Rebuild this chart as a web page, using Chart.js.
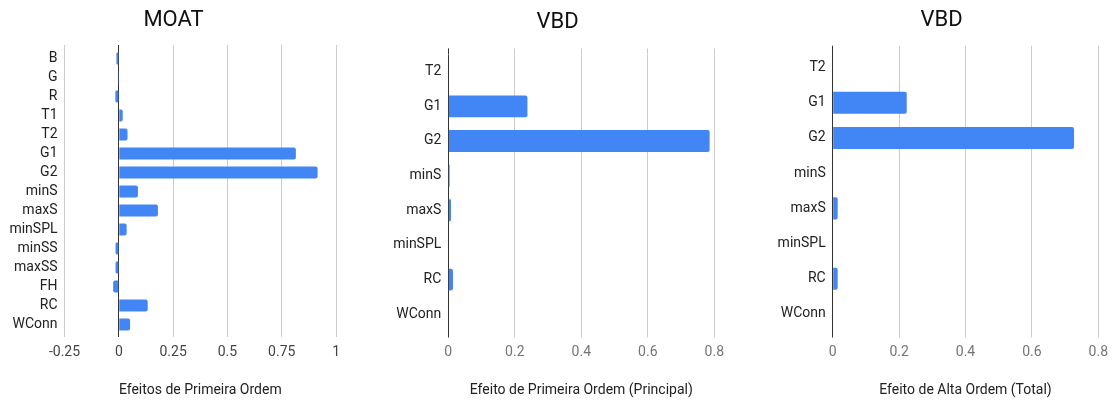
<!DOCTYPE html>
<html>
<head>
<meta charset="utf-8">
<script src="https://cdn.jsdelivr.net/npm/chart.js@4/dist/chart.umd.min.js"></script>
<style>
  html, body { margin: 0; padding: 0; background: #fff; }
  body { width: 1118px; height: 403px; position: relative; overflow: hidden; }
  .panel { position: absolute; top: 0; width: 347px; height: 403px; }
  .panel canvas { display: block; }
</style>
</head>
<body>
<div class="panel" style="left:0"><canvas id="moat" width="347" height="403"></canvas></div>
<div class="panel" style="left:384px"><canvas id="vbdMain" width="347" height="403"></canvas></div>
<div class="panel" style="left:768px"><canvas id="vbdTotal" width="347" height="403"></canvas></div>
<script>
// MOAT first-order effects
const moatCategories = ['B', 'G', 'R', 'T1', 'T2', 'G1', 'G2', 'minS', 'maxS', 'minSPL', 'minSS', 'maxSS', 'FH', 'RC', 'WConn'];
const moatValues = [-0.011, -0.004, -0.016, 0.018, 0.040, 0.815, 0.915, 0.088, 0.180, 0.036, -0.015, -0.015, -0.026, 0.133, 0.052];
const moatTicks = [-0.25, 0, 0.25, 0.5, 0.75, 1];
const moatTickLabels = ['-0.25', '0', '0.25', '0.5', '0.75', '1'];

// VBD first-order (main) and total effects
const vbdCategories = ['T2', 'G1', 'G2', 'minS', 'maxS', 'minSPL', 'RC', 'WConn'];
const vbdMainValues = [0, 0.238, 0.786, 0.004, 0.008, 0, 0.014, 0];
const vbdTotalValues = [0, 0.223, 0.727, 0, 0.015, 0, 0.015, 0];
const vbdTicks = [0, 0.2, 0.4, 0.6, 0.8];
const vbdTickLabels = ['0', '0.2', '0.4', '0.6', '0.8'];

const FONT = 'Roboto';
const BAR_BLUE = '#4285f4';
const gridColor = ctx => (ctx.tick && ctx.tick.value === 0) ? '#333333' : '#cccccc';

function makeChart(id, opt) {
  const setTicks = s => { s.ticks = opt.ticks.map(v => ({ value: v })); };
  return new Chart(document.getElementById(id), {
    type: 'bar',
    data: {
      labels: opt.categories,
      datasets: [{
        data: opt.values,
        backgroundColor: BAR_BLUE,
        borderWidth: 0,
        borderRadius: 2,
        borderSkipped: 'start',
        barPercentage: 0.63,
        categoryPercentage: 1
      }]
    },
    options: {
      indexAxis: 'y',
      responsive: false,
      animation: false,
      devicePixelRatio: 1,
      layout: { padding: { left: 10, right: 10, top: 0, bottom: 1 } },
      plugins: {
        legend: { display: false },
        tooltip: { enabled: false },
        title: {
          display: true,
          text: opt.title,
          color: '#111',
          font: { family: FONT, size: 22, weight: 'normal', lineHeight: 1.2 },
          padding: { top: opt.titleTop, bottom: opt.titleBottom }
        }
      },
      scales: {
        x: {
          type: 'linear',
          position: 'bottom',
          min: opt.ticks[0],
          max: opt.ticks[opt.ticks.length - 1],
          afterBuildTicks: setTicks,
          afterFit: s => { s.height = opt.bottomHeight; },
          border: { display: false },
          grid: { color: gridColor, tickColor: gridColor, drawTicks: true, tickLength: opt.tickBottom },
          ticks: {
            padding: 7,
            color: opt.tickColor,
            font: { family: FONT, size: 14, lineHeight: 1.2 },
            maxRotation: 0,
            autoSkip: false,
            callback: (v, i) => opt.tickLabels[i]
          },
          title: {
            display: true,
            text: opt.axisTitle,
            color: '#222',
            font: { family: FONT, size: 14, lineHeight: 1.2 },
            padding: { top: 0, bottom: 3 }
          }
        },
        xTop: {
          type: 'linear',
          position: 'top',
          min: opt.ticks[0],
          max: opt.ticks[opt.ticks.length - 1],
          afterBuildTicks: setTicks,
          border: { display: false },
          grid: { drawOnChartArea: false, drawTicks: true, tickLength: opt.tickTop, tickColor: gridColor, color: gridColor },
          ticks: { display: false }
        },
        y: {
          type: 'category',
          afterFit: s => { s.width = opt.axisWidth; },
          border: { display: false },
          grid: { display: false, drawTicks: false, tickLength: 0 },
          ticks: {
            padding: 7,
            autoSkip: false,
            color: '#222',
            font: { family: FONT, size: 14, lineHeight: 1.2 }
          }
        }
      }
    }
  });
}

makeChart('moat', {
  title: 'MOAT', categories: moatCategories, values: moatValues,
  ticks: moatTicks, tickLabels: moatTickLabels, tickColor: '#444',
  axisTitle: 'Efeitos de Primeira Ordem',
  titleTop: 6.8, titleBottom: 11.8, tickTop: 4, tickBottom: 3,
  axisWidth: 54.5, bottomHeight: 68
});

makeChart('vbdMain', {
  title: 'VBD', categories: vbdCategories, values: vbdMainValues,
  ticks: vbdTicks, tickLabels: vbdTickLabels, tickColor: '#757575',
  axisTitle: 'Efeito de Primeira Ordem (Principal)',
  titleTop: 9.6, titleBottom: 12.4, tickTop: 6, tickBottom: 6,
  axisWidth: 54.3, bottomHeight: 70.5
});

makeChart('vbdTotal', {
  title: 'VBD', categories: vbdCategories, values: vbdTotalValues,
  ticks: vbdTicks, tickLabels: vbdTickLabels, tickColor: '#757575',
  axisTitle: 'Efeito de Alta Ordem (Total)',
  titleTop: 6.8, titleBottom: 12.5, tickTop: 4.3, tickBottom: 6,
  axisWidth: 54.7, bottomHeight: 70.5
});
</script>
</body>
</html>
